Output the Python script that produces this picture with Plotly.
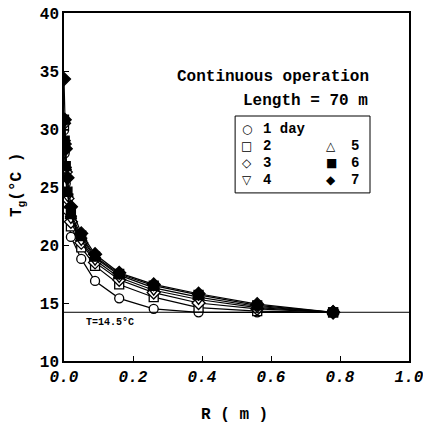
import plotly.graph_objects as go

R = [0.0, 0.002, 0.005, 0.01, 0.02, 0.05, 0.09, 0.16, 0.26, 0.39, 0.56, 0.78]
day1 = [29.9, 27.9, 25.3, 23.0, 20.7, 18.8, 16.9, 15.4, 14.5, 14.2, 14.2, 14.2]
day2 = [30.3, 28.4, 26.0, 23.6, 21.6, 19.8, 18.2, 16.6, 15.5, 14.6, 14.3, 14.2]
day3 = [30.5, 28.7, 26.3, 24.0, 22.0, 20.2, 18.5, 17.0, 15.9, 15.0, 14.5, 14.2]
day4 = [30.6, 28.8, 26.5, 24.2, 22.3, 20.4, 18.7, 17.2, 16.1, 15.3, 14.6, 14.2]
day5 = [30.7, 28.9, 26.7, 24.4, 22.5, 20.6, 18.9, 17.4, 16.3, 15.5, 14.7, 14.2]
day6 = [30.8, 29.0, 26.8, 24.6, 22.7, 20.8, 19.0, 17.5, 16.5, 15.7, 14.8, 14.2]
day7 = [34.3, 30.8, 28.3, 25.8, 23.3, 21.0, 19.2, 17.6, 16.6, 15.8, 14.9, 14.2]
series = [day1, day2, day3, day4, day5, day6, day7]
names = ["1 day", "2", "3", "4", "5", "6", "7"]
symbols = ["circle", "square", "diamond", "triangle-down", "triangle-up", "square", "diamond"]
filled = [False, False, False, False, False, True, True]
legend_glyphs = ["○", "□", "◇", "▽", "△", "■", "◆"]
T_ref = 14.2
x_ticks = [0.0, 0.2, 0.4, 0.6, 0.8, 1.0]
y_ticks = [10, 15, 20, 25, 30, 35, 40]

FONT = "Liberation Mono"
fig = go.Figure()
for vals, nm, sym, fl in zip(series, names, symbols, filled):
    fig.add_trace(go.Scatter(
        x=R, y=vals, name=nm, mode="lines+markers",
        line=dict(color="black", width=1.2),
        marker=dict(symbol=sym, size=10 if sym.startswith("tri") or sym == "diamond" else 9,
                    color="black" if fl else "white",
                    line=dict(color="black", width=1.3)),
        showlegend=False,
    ))

fig.add_shape(type="line", xref="x", yref="y", x0=0, x1=1.0, y0=T_ref, y1=T_ref,
              line=dict(color="black", width=1))


def pa(text, x, y, size=16, xanchor="center", family=FONT, **kw):
    return dict(x=x, y=y, xref="paper", yref="paper", text=text, showarrow=False, borderpad=0,
                xanchor=xanchor, yanchor="middle", font=dict(family=family, size=size, color="black"), **kw)


ann = []
ann.append(dict(x=0.133, y=13.3, xref="x", yref="y", text="<b>T=14.5°C</b>", showarrow=False,
                xanchor="center", yanchor="middle", font=dict(family=FONT, size=10, color="black")))
ann.append(pa("<b>Continuous operation</b>", 0.886, 0.816, xanchor="right"))
ann.append(pa("<b>Length = 70 m</b>", 0.883, 0.747, xanchor="right"))
# legend (manual layout: 1 day / 2 5 / 3 6 / 4 7)
pos = [(0, 0), (0, 1), (0, 2), (0, 3), (1, 1), (1, 2), (1, 3)]
rows_y = [0.667, 0.617, 0.569, 0.520]
sym_x = [0.530, 0.774]
lab_x = [0.574, 0.829]
for (c, r), g, nm in zip(pos, legend_glyphs, names):
    ann.append(pa(g, sym_x[c], rows_y[r], size=12, family="DejaVu Sans"))
    ann.append(pa(f"<b>{nm}</b>", lab_x[c], rows_y[r], size=14, xanchor="left"))
ann.append(pa("<b>T<sub>g</sub>(°C )</b>", -0.133, 0.506, textangle=-90))
ann.append(pa("<b>R ( m )</b>", 0.493, -0.155))
fig.add_shape(type="rect", xref="paper", yref="paper", x0=0.496, x1=0.887, y0=0.483, y1=0.704,
              line=dict(color="black", width=1), fillcolor="rgba(0,0,0,0)")

fig.update_layout(
    width=423, height=424, margin=dict(l=64, r=14, t=13, b=63, autoexpand=False),
    plot_bgcolor="white", paper_bgcolor="white", annotations=ann,
    font=dict(family=FONT, color="black"),
)
fig.update_xaxes(range=[0, 1.0], tickvals=x_ticks, ticktext=[f"<b><i>{v:.1f}</i></b>" for v in x_ticks],
                 ticks="inside", ticklen=5, tickwidth=1, tickcolor="black", automargin=False,
                 ticklabeloverflow="allow",
                 showline=True, linecolor="black", linewidth=1.5, mirror=True,
                 showgrid=False, zeroline=False, tickfont=dict(family=FONT, size=16, color="black"))
fig.update_yaxes(range=[10, 40], tickvals=y_ticks, ticktext=[f"<b>{v}</b>" for v in y_ticks],
                 ticks="inside", ticklen=5, tickwidth=1, tickcolor="black", automargin=False,
                 ticklabeloverflow="allow",
                 showline=True, linecolor="black", linewidth=1.5, mirror=True,
                 showgrid=False, zeroline=False, tickfont=dict(family=FONT, size=16, color="black"))
fig.write_html("out.html")
